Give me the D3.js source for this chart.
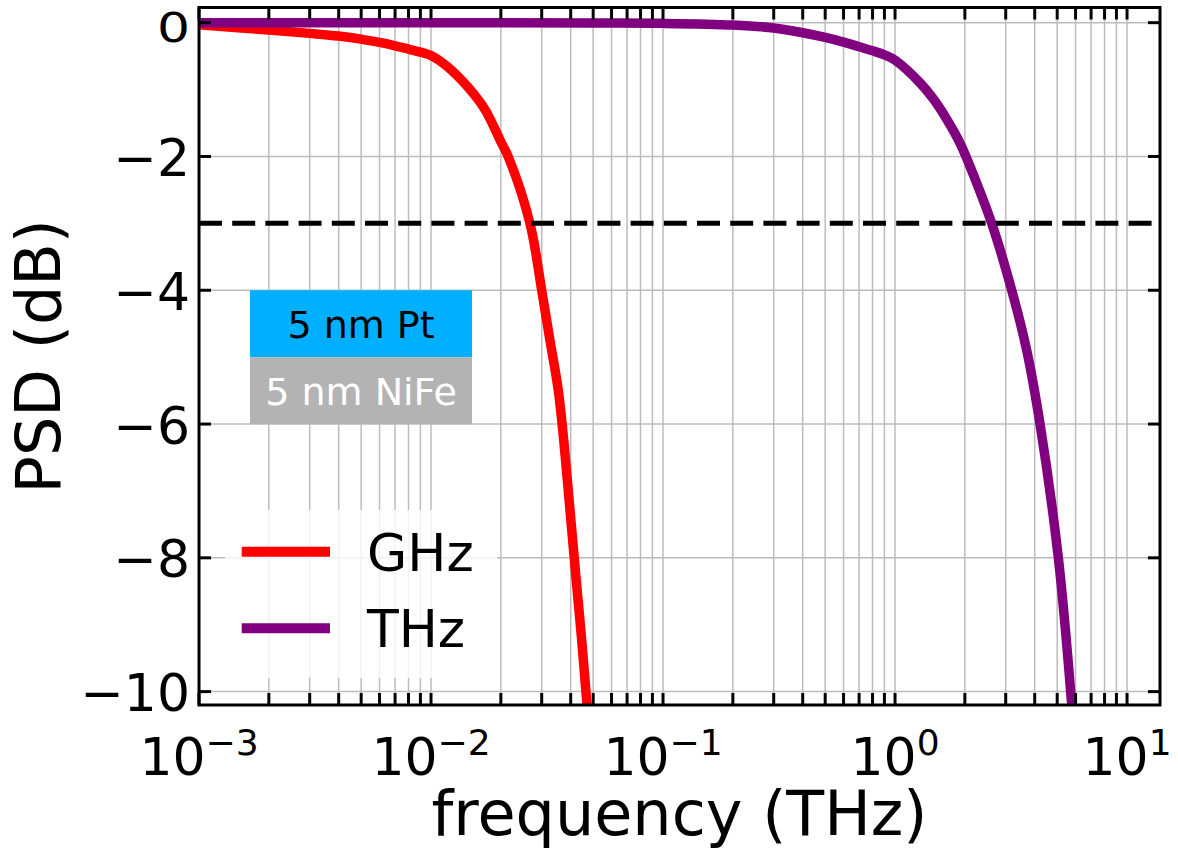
<!DOCTYPE html>
<html>
<head>
<meta charset="utf-8">
<script src="https://cdn.jsdelivr.net/npm/d3@7"></script>
<style>
  html, body { margin: 0; padding: 0; background: #fff; }
  svg { display: block; font-family: "DejaVu Sans", sans-serif; }
</style>
</head>
<body>
<svg id="chart" width="1178" height="857"></svg>
<script>
// ---- data ----
const ghzFreq = [0.001, 0.002, 0.003, 0.004, 0.005, 0.006, 0.007, 0.008, 0.009, 0.010, 0.0118, 0.0144, 0.0171, 0.0200, 0.0215, 0.0267, 0.0300, 0.03257, 0.03538, 0.03746, 0.03975, 0.04217, 0.04454, 0.04703];
const ghzPsd  = [-0.03, -0.11, -0.16, -0.20, -0.245, -0.295, -0.345, -0.395, -0.44, -0.49, -0.66, -0.96, -1.30, -1.78, -2.0, -3.0, -4.0, -4.75, -5.5, -6.3, -7.3, -8.3, -9.2, -10.2];

const thzFreq = [0.001, 0.01, 0.05, 0.1, 0.2, 0.3, 0.4, 0.5, 0.6, 0.7, 0.8, 0.9, 1.0, 1.282, 1.463, 1.675, 1.906, 2.250, 2.611, 3.184, 3.696, 4.217, 5.057, 5.776];
const thzPsd  = [0, 0, -0.005, -0.01, -0.035, -0.08, -0.15, -0.22, -0.29, -0.36, -0.42, -0.48, -0.56, -0.90, -1.14, -1.45, -1.80, -2.40, -3.0, -4.0, -4.9, -6.0, -8.0, -10.2];

const seriesNames = ["GHz", "THz"];
const seriesColors = ["#ff0000", "#800080"];
const cutoffDb = -3;

const xMajorExps = [-3, -2, -1, 0, 1];
const yTicks = [0, -2, -4, -6, -8, -10];
const yTickLabels = ["0", "\u22122", "\u22124", "\u22126", "\u22128", "\u221210"];
const xTitle = "frequency (THz)";
const yTitle = "PSD (dB)";
const layerLabels = ["5 nm Pt", "5 nm NiFe"];
const layerColors = ["#00b0ff", "#b3b3b3"];
const layerTextColors = ["#000000", "#ffffff"];
const layerBounds = [-4, -5, -6];

// ---- layout ----
const L = 199, R = 1160, T = 7.5, B = 705;
const svg = d3.select("#chart");

const x = d3.scaleLog().domain([1e-3, 13.87]).range([L, R]);
const y = d3.scaleLinear().domain([-10.2, 0.227]).range([B, T]);

svg.append("defs").append("clipPath").attr("id", "plotclip")
  .append("rect").attr("x", L).attr("y", T).attr("width", R - L).attr("height", B - T);

// grid
const minorVals = [];
xMajorExps.forEach(e => { for (let k = 1; k <= 9; k++) { const v = k * Math.pow(10, e); if (v <= x.domain()[1]) minorVals.push(v); } });

const grid = svg.append("g");
grid.selectAll("line.vx").data(minorVals).enter().append("line")
  .attr("x1", d => x(d)).attr("x2", d => x(d)).attr("y1", T).attr("y2", B)
  .attr("stroke", "#bcbcbc").attr("stroke-width", 1.5);
grid.selectAll("line.hy").data(yTicks).enter().append("line")
  .attr("x1", L).attr("x2", R).attr("y1", d => y(d)).attr("y2", d => y(d))
  .attr("stroke", "#bcbcbc").attr("stroke-width", 1.5);

// curves
const plot = svg.append("g").attr("clip-path", "url(#plotclip)");
const line = d3.line().x(d => x(d[0])).y(d => y(d[1])).curve(d3.curveCatmullRom.alpha(0.5));
const series = [d3.zip(ghzFreq, ghzPsd), d3.zip(thzFreq, thzPsd)];
series.forEach((s, i) => {
  plot.append("path").datum(s).attr("d", line)
    .attr("fill", "none").attr("stroke", seriesColors[i]).attr("stroke-width", 9.5)
    .attr("stroke-linejoin", "round");
});

// -3 dB line
plot.append("line").attr("x1", L).attr("x2", R).attr("y1", y(cutoffDb)).attr("y2", y(cutoffDb))
  .attr("stroke", "#000").attr("stroke-width", 5).attr("stroke-dasharray", "23,10.2");

// layer boxes
const bx0 = 250, bx1 = 472;
layerLabels.forEach((lab, i) => {
  const y0 = y(layerBounds[i]), y1 = y(layerBounds[i + 1]);
  svg.append("rect").attr("x", bx0).attr("y", y0).attr("width", bx1 - bx0).attr("height", y1 - y0)
    .attr("fill", layerColors[i]);
  svg.append("text").attr("x", (bx0 + bx1) / 2).attr("y", y1 - 19)
    .attr("text-anchor", "middle").attr("font-size", 38).attr("fill", layerTextColors[i]).text(lab);
});

// legend
const leg = svg.append("g");
leg.append("rect").attr("x", 225).attr("y", 510).attr("width", 272).attr("height", 168)
  .attr("rx", 6).attr("fill", "#fff").attr("fill-opacity", 0.8);
[551.7, 628.3].forEach((ly, i) => {
  leg.append("line").attr("x1", 241.7).attr("x2", 330).attr("y1", ly).attr("y2", ly)
    .attr("stroke", seriesColors[i]).attr("stroke-width", 10);
  leg.append("text").attr("x", 367).attr("y", ly + 19).attr("font-size", 52).attr("fill", "#000")
    .text(seriesNames[i]);
});

// ticks (inward, all sides)
const tk = svg.append("g").attr("stroke", "#000").attr("stroke-width", 3);
const tlen = 12;
minorVals.forEach(v => {
  tk.append("line").attr("x1", x(v)).attr("x2", x(v)).attr("y1", B).attr("y2", B - tlen);
  tk.append("line").attr("x1", x(v)).attr("x2", x(v)).attr("y1", T).attr("y2", T + tlen);
});
yTicks.forEach(v => {
  tk.append("line").attr("x1", L).attr("x2", L + tlen).attr("y1", y(v)).attr("y2", y(v));
  tk.append("line").attr("x1", R).attr("x2", R - tlen).attr("y1", y(v)).attr("y2", y(v));
});

// frame
svg.append("rect").attr("x", L).attr("y", T).attr("width", R - L).attr("height", B - T)
  .attr("fill", "none").attr("stroke", "#000").attr("stroke-width", 3);

// y tick labels (top label is vertically compressed in the reference)
svg.selectAll("text.yl").data(yTicks).enter().append("text")
  .attr("transform", d => `translate(190, ${y(d) + 19.5}) scale(1, ${d === 0 ? 0.8 : 1})`)
  .attr("text-anchor", "end").attr("font-size", 52).attr("fill", "#000")
  .text((d, i) => yTickLabels[i]);

// x tick labels 10^e
xMajorExps.forEach(e => {
  const t = svg.append("text").attr("x", x(Math.pow(10, e))).attr("y", 775)
    .attr("text-anchor", "middle").attr("font-size", 52).attr("fill", "#000");
  t.append("tspan").text("10");
  t.append("tspan").attr("font-size", 36).attr("dy", -20).text(e < 0 ? "\u2212" + Math.abs(e) : String(e));
});

// axis titles
svg.append("text").attr("x", (L + R) / 2).attr("y", 835).attr("text-anchor", "middle")
  .attr("font-size", 62).attr("fill", "#000").text(xTitle);
svg.append("text").attr("transform", `translate(60, ${(T + B) / 2}) rotate(-90)`)
  .attr("text-anchor", "middle").attr("font-size", 62).attr("fill", "#000").text(yTitle);
</script>
</body>
</html>
